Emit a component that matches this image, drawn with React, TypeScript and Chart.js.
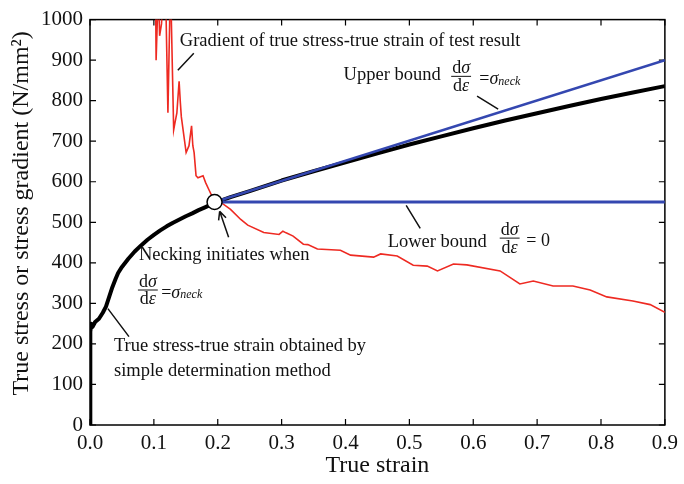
import { useEffect, useRef } from 'react';
import { Chart, registerables } from 'chart.js';

Chart.register(...registerables);

const FONT = '"Liberation Serif", "Times New Roman", serif';

// ---- data ----
const xTickValues = [0, 0.1, 0.2, 0.3, 0.4, 0.5, 0.6, 0.7, 0.8, 0.9];
const yTickValues = [0, 100, 200, 300, 400, 500, 600, 700, 800, 900, 1000];

const stressStrainX = [0, 0.001, 0, 0.001, 0, 0.002, 0.004, 0.008, 0.014, 0.02, 0.025, 0.03, 0.035, 0.04, 0.044, 0.05, 0.06, 0.07, 0.08, 0.09, 0.1, 0.11, 0.12, 0.13, 0.14, 0.15, 0.16, 0.17, 0.18, 0.195, 0.22, 0.25, 0.3, 0.35, 0.4, 0.45, 0.5, 0.55, 0.6, 0.65, 0.7, 0.75, 0.8, 0.85, 0.9];
const stressStrainY = [0, 60, 120, 180, 230, 250, 242, 254, 262, 277, 292, 316, 340, 360, 375, 390, 410, 428, 443, 457, 469, 480, 490, 499, 507, 515, 522, 530, 537, 548, 562, 577, 603, 626, 648, 670, 692, 712, 732, 751, 769, 787, 804, 820, 836];

const gradientX = [0.1025, 0.1035, 0.107, 0.109, 0.112, 0.1145, 0.118, 0.122, 0.126, 0.131, 0.133, 0.136, 0.1395, 0.1415, 0.143, 0.1505, 0.155, 0.159, 0.161, 0.163, 0.166, 0.169, 0.177, 0.181, 0.186, 0.192, 0.195, 0.205, 0.22, 0.236, 0.247, 0.272, 0.296, 0.302, 0.307, 0.318, 0.334, 0.341, 0.356, 0.392, 0.408, 0.444, 0.455, 0.481, 0.506, 0.528, 0.544, 0.569, 0.59, 0.642, 0.673, 0.694, 0.725, 0.756, 0.783, 0.809, 0.85, 0.877, 0.9];
const gradientY = [1100, 900, 1080, 960, 990, 1080, 1100, 770, 1100, 728, 745, 770, 848, 794, 760, 672, 689, 738, 689, 672, 615, 610, 615, 598, 581, 561, 549, 549, 532, 507, 493, 475, 470, 478, 474, 466, 446, 445, 434, 431, 419, 414, 422, 417, 394, 392, 380, 397, 395, 380, 348, 355, 343, 343, 333, 316, 306, 297, 278];

const neckX = [0.195];
const neckY = [550];
const upperBoundX = [0.195, 0.9];
const upperBoundY = [550, 900];
const lowerBoundX = [0.195, 0.9];
const lowerBoundY = [550, 550];

const yTitle = 'True stress or stress gradient (N/mm\u00B2)';
const xTitle = 'True strain';

const toPoints = (xs: number[], ys: number[]) => xs.map((x, i) => ({ x, y: ys[i] }));

type Part = { t: string; italic?: boolean; size?: number; dy?: number };

function partFont(p: Part, base: number) {
  return `${p.italic ? 'italic ' : ''}${p.size ?? base}px ${FONT}`;
}

function richWidth(ctx: CanvasRenderingContext2D, parts: Part[], base: number) {
  let w = 0;
  for (const p of parts) {
    ctx.font = partFont(p, base);
    w += ctx.measureText(p.t).width;
  }
  return w;
}

function drawRich(ctx: CanvasRenderingContext2D, parts: Part[], x: number, y: number, base: number, align: 'left' | 'center' = 'left') {
  let cx = x;
  if (align === 'center') cx = x - richWidth(ctx, parts, base) / 2;
  ctx.textAlign = 'left';
  for (const p of parts) {
    ctx.font = partFont(p, base);
    ctx.fillText(p.t, cx, y + (p.dy ?? 0));
    cx += ctx.measureText(p.t).width;
  }
}

const NUM: Part[] = [{ t: 'd' }, { t: 'σ', italic: true }];
const DEN: Part[] = [{ t: 'd' }, { t: 'ε', italic: true }];
const EQ_NECK: Part[] = [{ t: '=' }, { t: 'σ', italic: true }, { t: 'neck', italic: true, size: 12, dy: 2 }];
const EQ_ZERO: Part[] = [{ t: '= 0' }];

function drawFrac(ctx: CanvasRenderingContext2D, cx: number, barY: number, size: number) {
  ctx.textBaseline = 'alphabetic';
  const w = Math.max(richWidth(ctx, NUM, size), richWidth(ctx, DEN, size)) + 2;
  drawRich(ctx, NUM, cx, barY - 3, size, 'center');
  drawRich(ctx, DEN, cx, barY + size * 0.8, size, 'center');
  ctx.lineWidth = 1;
  ctx.beginPath();
  ctx.moveTo(cx - w / 2, barY);
  ctx.lineTo(cx + w / 2, barY);
  ctx.stroke();
}

// annotation anchors in data units
const textLabels = [
  { text: 'Gradient of true stress-true strain of test result', x: 0.1406, y: 948 },
  { text: 'Upper bound', x: 0.397, y: 863 },
  { text: 'Lower bound', x: 0.466, y: 451 },
  { text: 'Necking initiates when', x: 0.0766, y: 419 },
  { text: 'True stress-true strain obtained by', x: 0.0375, y: 194 },
  { text: 'simple determination method', x: 0.0375, y: 134 },
];
const leaderLines = [
  { x1: 0.1625, y1: 917, x2: 0.1375, y2: 875 },
  { x1: 0.606, y1: 811, x2: 0.639, y2: 779 },
  { x1: 0.495, y1: 542, x2: 0.517, y2: 485 },
  { x1: 0.028, y1: 287, x2: 0.061, y2: 218 },
];
const fractions = [
  { x: 0.581, y: 860, eq: 'neck', ex: 0.6095 },
  { x: 0.657, y: 461, eq: 'zero', ex: 0.683 },
  { x: 0.0906, y: 333, eq: 'neck', ex: 0.1115 },
];
const arrow = { x1: 0.217, y1: 463, x2: 0.203, y2: 527 };
const yTitleCenter = 522; // data units along the y axis

const framePlugin = {
  id: 'frame',
  beforeDatasetsDraw(chart: any) {
    const { ctx, chartArea: a, scales } = chart;
    const xs = scales.x, ys = scales.y;
    ctx.save();
    ctx.strokeStyle = '#000';
    ctx.lineWidth = 1.5;
    ctx.strokeRect(a.left, a.top, a.right - a.left, a.bottom - a.top);
    ctx.beginPath();
    const L = 6;
    for (const v of xTickValues) {
      const p = xs.getPixelForValue(v);
      ctx.moveTo(p, a.bottom); ctx.lineTo(p, a.bottom - L);
      ctx.moveTo(p, a.top); ctx.lineTo(p, a.top + L);
    }
    for (const v of yTickValues) {
      const p = ys.getPixelForValue(v);
      ctx.moveTo(a.left, p); ctx.lineTo(a.left + L, p);
      ctx.moveTo(a.right, p); ctx.lineTo(a.right - L, p);
    }
    ctx.lineWidth = 1.2;
    ctx.stroke();
    ctx.restore();
  },
};

const annotationPlugin = {
  id: 'annotations',
  afterDraw(chart: any) {
    const { ctx, scales } = chart;
    const px = (v: number) => scales.x.getPixelForValue(v);
    const py = (v: number) => scales.y.getPixelForValue(v);
    ctx.save();
    ctx.fillStyle = '#111';
    ctx.strokeStyle = '#111';

    // y axis title
    ctx.save();
    ctx.translate(scales.y.left + 22, py(yTitleCenter));
    ctx.rotate(-Math.PI / 2);
    ctx.textAlign = 'center';
    ctx.textBaseline = 'middle';
    ctx.font = `24px ${FONT}`;
    ctx.fillText(yTitle, 0, 0);
    ctx.restore();

    ctx.textBaseline = 'middle';
    ctx.textAlign = 'left';
    ctx.font = `18.5px ${FONT}`;
    for (const l of textLabels) ctx.fillText(l.text, px(l.x), py(l.y));

    ctx.lineWidth = 1.5;
    ctx.beginPath();
    for (const l of leaderLines) {
      ctx.moveTo(px(l.x1), py(l.y1));
      ctx.lineTo(px(l.x2), py(l.y2));
    }
    ctx.stroke();

    for (const f of fractions) {
      drawFrac(ctx, px(f.x), py(f.y), 18);
      ctx.textBaseline = 'middle';
      drawRich(ctx, f.eq === 'neck' ? EQ_NECK : EQ_ZERO, px(f.ex), py(f.y) + 3, 18);
    }

    // arrow
    const ax1 = px(arrow.x1), ay1 = py(arrow.y1), ax2 = px(arrow.x2), ay2 = py(arrow.y2);
    ctx.lineWidth = 1.5;
    ctx.beginPath();
    ctx.moveTo(ax1, ay1);
    ctx.lineTo(ax2, ay2);
    const ang = Math.atan2(ay2 - ay1, ax2 - ax1);
    const h = 9;
    ctx.moveTo(ax2, ay2);
    ctx.lineTo(ax2 - h * Math.cos(ang - 0.45), ay2 - h * Math.sin(ang - 0.45));
    ctx.moveTo(ax2, ay2);
    ctx.lineTo(ax2 - h * Math.cos(ang + 0.45), ay2 - h * Math.sin(ang + 0.45));
    ctx.stroke();
    ctx.restore();
  },
};

export default function App() {
  const ref = useRef<HTMLCanvasElement | null>(null);

  useEffect(() => {
    if (!ref.current) return;
    const chart = new Chart(ref.current, {
      type: 'scatter',
      data: {
        datasets: [
          {
            label: 'Necking point',
            data: toPoints(neckX, neckY),
            showLine: false,
            pointRadius: 7.5,
            pointBackgroundColor: '#fff',
            pointBorderColor: '#000',
            pointBorderWidth: 1.5,
          },
          {
            label: 'Upper bound',
            data: toPoints(upperBoundX, upperBoundY),
            showLine: true,
            borderColor: '#3447b0',
            borderWidth: 2.5,
            pointRadius: 0,
          },
          {
            label: 'Lower bound',
            data: toPoints(lowerBoundX, lowerBoundY),
            showLine: true,
            borderColor: '#3447b0',
            borderWidth: 3,
            pointRadius: 0,
          },
          {
            label: 'True stress-true strain',
            data: toPoints(stressStrainX, stressStrainY),
            showLine: true,
            borderColor: '#000',
            borderWidth: 4,
            pointRadius: 0,
            tension: 0,
            borderJoinStyle: 'round',
          },
          {
            label: 'Gradient',
            data: toPoints(gradientX, gradientY),
            showLine: true,
            borderColor: '#ee2a22',
            borderWidth: 1.6,
            pointRadius: 0,
          },
        ],
      },
      options: {
        responsive: false,
        animation: false,
        layout: { padding: { left: 0, top: 15, right: 19, bottom: 0 } },
        plugins: {
          legend: { display: false },
          tooltip: { enabled: false },
        },
        scales: {
          x: {
            type: 'linear',
            min: 0,
            max: 0.9,
            afterFit: (s: any) => { s.height = 59; },
            afterBuildTicks: (s: any) => { s.ticks = xTickValues.map((v) => ({ value: v })); },
            ticks: {
              callback: (v: any) => Number(v).toFixed(1),
              font: { family: FONT, size: 21 },
              color: '#111',
              padding: 6,
              maxRotation: 0,
            },
            grid: { display: false, drawTicks: false },
            border: { display: false },
            title: {
              display: true,
              text: xTitle,
              font: { family: FONT, size: 24 },
              color: '#111',
              padding: { top: 0, bottom: 4 },
            },
          },
          y: {
            type: 'linear',
            min: 0,
            max: 1000,
            afterFit: (s: any) => { s.width = 90; },
            afterBuildTicks: (s: any) => { s.ticks = yTickValues.map((v) => ({ value: v })); },
            ticks: {
              callback: (v: any) => String(v),
              font: { family: FONT, size: 21 },
              color: '#111',
              padding: 7,
            },
            grid: { display: false, drawTicks: false },
            border: { display: false },
            title: { display: false },
          },
        },
      },
      plugins: [framePlugin, annotationPlugin],
    });
    return () => chart.destroy();
  }, []);

  return (
    <div style={{ position: 'fixed', left: 0, top: 0, width: 684, height: 484, background: '#fff' }}>
      <canvas ref={ref} width={684} height={484} style={{ display: 'block', width: 684, height: 484 }} />
    </div>
  );
}
